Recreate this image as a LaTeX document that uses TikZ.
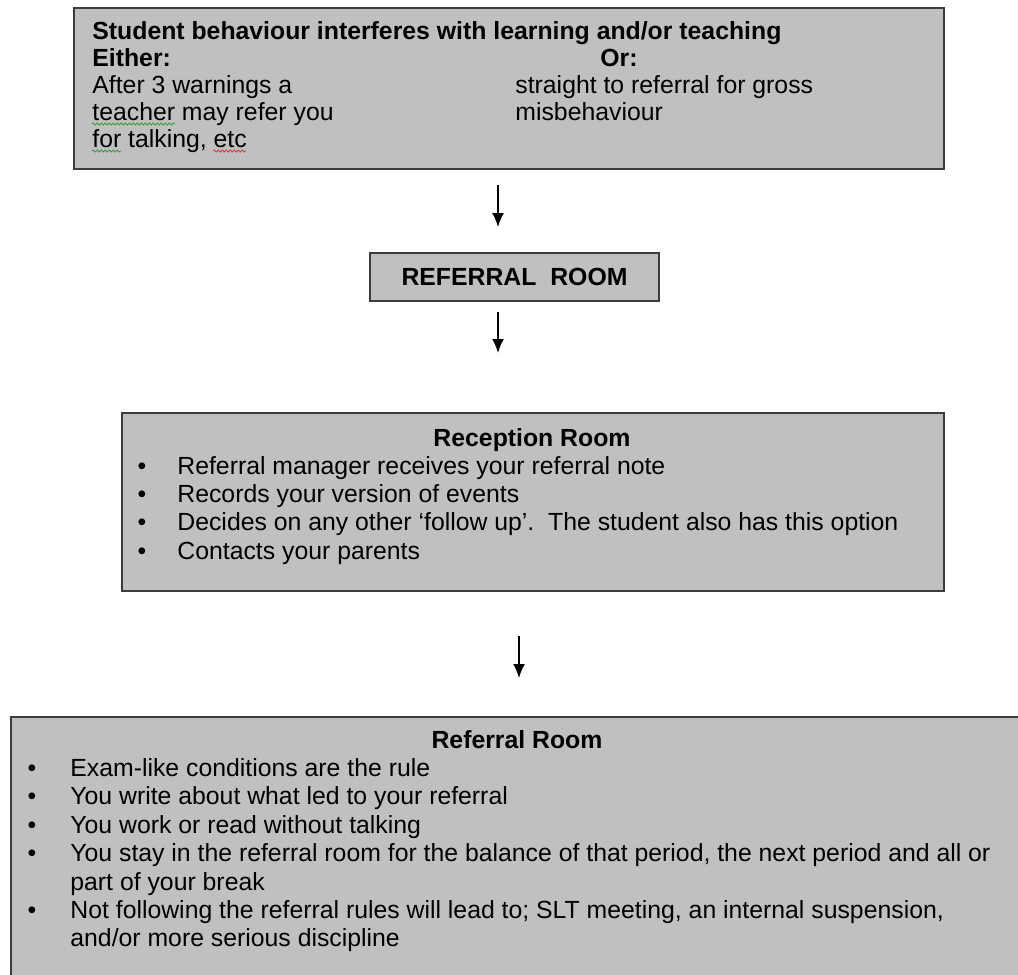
\documentclass[tikz,border=0pt]{standalone}
\usepackage{fontspec}
\setmainfont{Liberation Sans}
\usepackage{tikz}
\usetikzlibrary{arrows.meta,decorations.pathmorphing}
\definecolor{boxFill}{HTML}{C0C0C0}
\definecolor{boxLine}{HTML}{3C3C3C}
\definecolor{markGreen}{HTML}{3E9B3E}
\definecolor{markRed}{HTML}{D23C3C}
\newcommand{\flowFont}[0]{\fontsize{12.4}{14.1}\selectfont}

\begin{document}
\begin{tikzpicture}[x=0.5pt, y=-0.5pt]
  \tikzset{flow box/.style={draw=boxLine, fill=boxFill, line width=1pt, inner sep=0pt},
    flow text/.style={inner sep=0pt, anchor=base west, font=\flowFont},
    flow title/.style={inner sep=0pt, anchor=base, font=\flowFont\bfseries},
    flow dot/.style={inner sep=0pt, anchor=base, font=\flowFont},
    flow arrow/.style={-{Latex[length=7pt, width=6pt]}, line width=0.9pt},
    spell mark/.style={line width=0.4pt, decorate,
      decoration={snake, segment length=2pt, amplitude=0.5pt}}}
  \useasboundingbox (0,0) rectangle (1018,975);
  \clip (0,0) rectangle (1018,975);

  % boxes
  \node[flow box, anchor=north west, minimum width=435pt, minimum height=80.5pt] (cause) at (73,7) {};
  \node[flow box, minimum width=144.5pt, minimum height=24pt, font=\flowFont\bfseries] (referral) at (514.5,277) {REFERRAL\ \ ROOM};
  \node[flow box, anchor=north west, minimum width=411pt, minimum height=89pt] (reception) at (121,412) {};
  \node[flow box, anchor=north west, minimum width=507pt, minimum height=150pt] (referralRoom) at (10,716) {};

  % first box
  \node[flow title, anchor=base west] (causeTitle) at (92,39) {Student behaviour interferes with learning and/or teaching};
  \node[flow title, anchor=base west] (either) at (92,66) {Either:};
  \node[flow title, anchor=base west] (or) at (600,66) {Or:};
  \foreach \txt [count=\i] in {After 3 warnings a, teacher may refer you, {for talking, etc}}
    \node[flow text] (eitherLine\i) at (92, 66+27*\i) {\txt};
  \foreach \txt [count=\i] in {straight to referral for gross, misbehaviour}
    \node[flow text] (orLine\i) at (515, 66+27*\i) {\txt};
  % spelling marks
  \draw[spell mark, markGreen] ([yshift=-2pt]eitherLine2.base west) -- ++(83,0);
  \draw[spell mark, markGreen] ([yshift=-2pt]eitherLine3.base west) -- ++(29,0);
  \draw[spell mark, markRed] ([yshift=-2pt, xshift=60.5pt]eitherLine3.base west) -- ++(33,0);

  % reception room
  \node[flow title] (receptionTitle) at (532,446) {Reception Room};
  \foreach \txt [count=\i] in {Referral manager receives your referral note, Records your version of events,
      {Decides on any other ‘follow up’.\ \ The student also has this option}, Contacts your parents}{
    \node[flow dot] (recDot\i) at (142, 446+28.25*\i) {\textbullet};
    \node[flow text] (recItem\i) at (177, 446+28.25*\i) {\txt};
  }

  % referral room
  \node[flow title] (roomTitle) at (517,748) {Referral Room};
  \foreach \hasDot/\txt [count=\i] in {1/Exam-like conditions are the rule, 1/You write about what led to your referral,
      1/You work or read without talking,
      1/{You stay in the referral room for the balance of that period, the next period and all or},
      0/part of your break,
      1/{Not following the referral rules will lead to; SLT meeting, an internal suspension,},
      0/{and/or more serious discipline}}{
    \node[flow dot] (roomDot\i) at (32, 748+28.4*\i) {\ifnum\hasDot=1 \textbullet\fi};
    \node[flow text] (roomItem\i) at (70, 748+28.4*\i) {\txt};
  }

  % arrows
  \coordinate (arrowOneTop) at (498,185);
  \coordinate (arrowOneTip) at (498,227);
  \coordinate (arrowTwoTop) at (498,312);
  \coordinate (arrowTwoTip) at (498,353);
  \coordinate (arrowThreeTop) at (519,636);
  \coordinate (arrowThreeTip) at (519,678);
  \draw[flow arrow] (arrowOneTop) -- (arrowOneTip);
  \draw[flow arrow] (arrowTwoTop) -- (arrowTwoTip);
  \draw[flow arrow] (arrowThreeTop) -- (arrowThreeTip);
\end{tikzpicture}
\end{document}
